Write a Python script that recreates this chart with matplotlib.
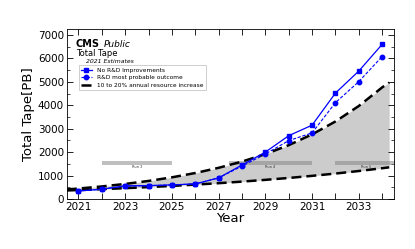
import numpy as np
import matplotlib
matplotlib.use('Agg')
import matplotlib.pyplot as plt
from matplotlib.ticker import MultipleLocator

# -- data --
years = [2021, 2022, 2023, 2024, 2025, 2026, 2027, 2028, 2029, 2030, 2031, 2032, 2033, 2034]
no_rnd = [340, 415, 560, 570, 600, 640, 900, 1450, 2000, 2700, 3150, 4520, 5460, 6600]
rnd_probable = [340, 415, 550, 565, 600, 640, 900, 1400, 1920, 2490, 2820, 4110, 5010, 6080]

# flat budget envelope (10% and 20% per year)
budget_years = [2020.5, 2021, 2022, 2023, 2024, 2025, 2026, 2027, 2028, 2029, 2030,
                2031, 2032, 2033, 2034, 2034.3]
budget_low = [362, 380, 418, 460, 506, 556, 612, 673, 740, 815, 896, 986, 1084, 1193, 1312, 1350]
budget_high = [406, 445, 534, 641, 769, 923, 1107, 1329, 1595, 1914, 2296, 2756, 3307,
               3968, 4762, 4970]

# LHC runs (start, end, label)
runs = [(2022, 2025, 'Run 3'), (2027.45, 2031, 'Run 4'), (2032, 2034.6, 'Run 5')]

xticks = list(range(2021, 2035))
xticklabels = [str(y) if y % 2 == 1 else '' for y in xticks]

fig = plt.figure(figsize=(4.15, 2.49), dpi=100)
ax = fig.add_axes([0.161, 0.201, 0.788, 0.683])

ax.fill_between(budget_years, budget_low, budget_high, color='#cccccc', lw=0, zorder=1)
ax.plot(budget_years, budget_low, color='k', ls='--', lw=1.8, dashes=(4, 2), zorder=3)
ax.plot(budget_years, budget_high, color='k', ls='--', lw=1.8, dashes=(4, 2), zorder=3,
        label='10 to 20% annual resource increase')

for start, end, name in runs:
    ax.fill_between([start, end], 1450, 1630, color='gray', alpha=0.5, lw=0, zorder=2)
    ax.text((start + end) / 2, 1430, name, fontsize=2.5, ha='center', va='top',
            color='#333333', zorder=2)

ax.plot(years, no_rnd, color='#0000ff', marker='s', ms=3.5, lw=0.9, zorder=4,
        label='No R&D Improvements')
ax.plot(years, rnd_probable, color='#0000ff', marker='o', ms=3.2, lw=0.8, ls='--',
        dashes=(3, 1.5), zorder=4, label='R&D most probable outcome')

ax.set_xlim(2020.5, 2034.5)
ax.set_ylim(0, 7260)
ax.set_xticks(xticks)
ax.set_xticklabels(xticklabels)
ax.yaxis.set_major_locator(MultipleLocator(1000))
ax.yaxis.set_minor_locator(MultipleLocator(500))
ax.tick_params(which='both', direction='in', top=True, right=True, labelsize=7.5, pad=2)
ax.tick_params(which='major', length=4, width=0.6)
ax.tick_params(which='minor', length=2, width=0.5)
for s in ax.spines.values():
    s.set_linewidth(0.6)

ax.set_xlabel('Year', fontsize=9.5, labelpad=0)
ax.set_ylabel('Total Tape[PB]', fontsize=9.5, labelpad=2)

ax.text(0.027, 0.893, 'CMS', transform=ax.transAxes, fontsize=7, fontweight='bold',
        va='baseline')
ax.text(0.112, 0.893, 'Public', transform=ax.transAxes, fontsize=6.5, style='italic',
        va='baseline')
ax.text(0.027, 0.84, 'Total Tape', transform=ax.transAxes, fontsize=6, va='baseline')
ax.text(0.058, 0.802, '2021 Estimates', transform=ax.transAxes, fontsize=4.4,
        style='italic', va='baseline')

handles, labels = ax.get_legend_handles_labels()
order = [1, 2, 0]
leg = ax.legend([handles[i] for i in order], [labels[i] for i in order],
                loc='upper left', bbox_to_anchor=(0.036, 0.785), fontsize=4.2,
                fancybox=False, edgecolor='#bbbbbb', framealpha=1,
                handlelength=2.0, borderpad=0.35, labelspacing=0.45,
                handletextpad=0.8, borderaxespad=0)
leg.get_frame().set_linewidth(0.5)

fig.savefig('out.png', dpi=100)
